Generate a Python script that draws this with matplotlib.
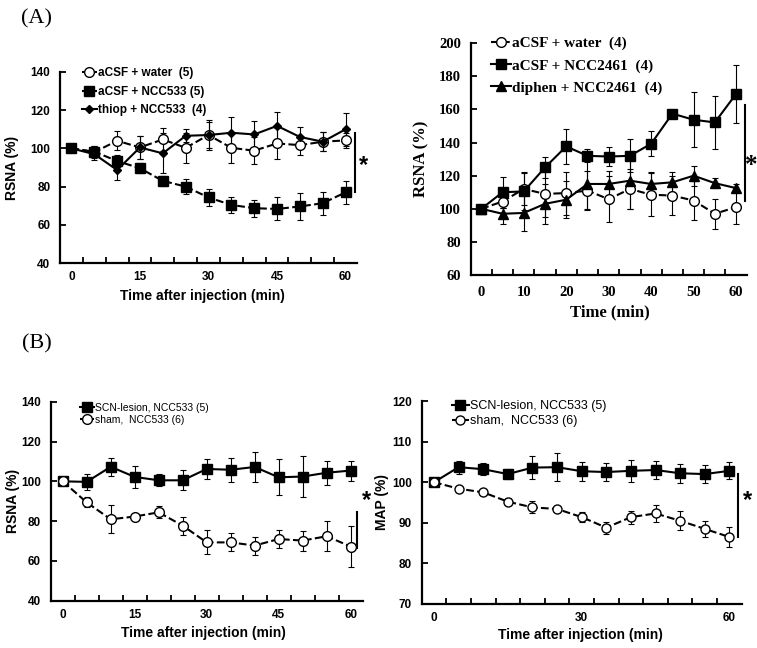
import numpy as np
import matplotlib.pyplot as plt
from matplotlib.ticker import FixedLocator

# time points (min)
t = [0, 5, 10, 15, 20, 25, 30, 35, 40, 45, 50, 55, 60]

# (A) left: RSNA, Time after injection
a1_water = [100, 98, 104, 100.5, 104.7, 100.3, 107, 100.3, 98.8, 102.6, 101.7, 103.5, 104.2]
a1_water_err = [0, 3, 5, 6, 6, 8, 8, 8, 7, 8, 5, 5, 4]
a1_ncc = [100, 98.3, 93.4, 89.6, 83, 80, 74.3, 70.4, 68.7, 68.3, 69.6, 71.3, 77]
a1_ncc_err = [0, 3, 3, 2.5, 2.5, 4, 4.5, 4.3, 4.5, 6, 7, 6, 6]
a1_thiop = [100, 97, 88.7, 100.5, 97.4, 106.6, 107, 108.2, 107.3, 111.8, 106, 103.5, 110]
a1_thiop_err = [0, 3, 5.5, 6, 10.5, 3.5, 7, 8, 7, 7, 5, 5, 8.5]

# (A) right: RSNA, Time
a2_water = [100, 104.4, 112, 109, 109.5, 111, 105.8, 112, 108.5, 108, 105, 97, 101]
a2_water_err = [0, 4, 10, 14, 13, 12, 14, 12, 13, 12, 12, 9, 10]
a2_ncc = [100, 110, 110.5, 125, 137.7, 132, 131.6, 132, 139.3, 157.5, 153.8, 152.2, 169.4]
a2_ncc_err = [0, 9.5, 11, 6.5, 10.5, 4, 6, 10, 7.5, 1.5, 16.5, 15.8, 17.5]
a2_diphen = [100, 97, 97.5, 103, 105.5, 115, 115, 117, 115, 116, 120, 115.5, 112.5]
a2_diphen_err = [0, 6, 11, 12, 11, 15, 8, 17, 7, 6, 6, 3, 2.5]

# (B) left: RSNA
b1_scn = [100, 99.7, 107.3, 102.2, 100.5, 100.5, 106.2, 105.8, 107.2, 102, 102.4, 104.3, 105.4]
b1_scn_err = [0, 4, 4.5, 5.5, 3, 5, 5, 6, 7.5, 9, 10.5, 6, 5]
b1_sham = [100, 89.4, 80.9, 82.3, 84.4, 77.7, 69.3, 69.3, 67.7, 71, 70.2, 72.4, 67.2]
b1_sham_err = [0, 2.5, 7, 1, 3, 4.5, 6, 4.5, 4.5, 4.5, 5, 7.5, 10.5]

# (B) right: MAP
b2_scn = [100, 103.7, 103.2, 102, 103.6, 103.7, 102.7, 102.5, 102.8, 103, 102.2, 102, 102.8]
b2_scn_err = [0, 1.6, 1.5, 1.2, 2.8, 3.5, 2.3, 2.2, 2.7, 2.3, 2.4, 2.3, 2.1]
b2_sham = [100, 98.4, 97.5, 95.2, 93.8, 93.4, 91.4, 88.8, 91.4, 92.3, 90.5, 88.5, 86.5]
b2_sham_err = [0, 0.5, 0.5, 0.8, 1.5, 0.5, 1.2, 1.5, 1.6, 2, 2.3, 2, 2.4]

W, H = 757, 648
fig = plt.figure(figsize=(W / 100, H / 100), dpi=100)


def box(x0, y0, x1, y1):
    # pixel box (top-left origin) -> figure fraction
    return [x0 / W, 1 - y1 / H, (x1 - x0) / W, (y1 - y0) / H]


def series(ax, y, err, marker, ls, ms, face='black', lw=1.5):
    ax.errorbar(t, y, yerr=err, fmt='none', ecolor='black', elinewidth=0.8,
                capsize=2, capthick=0.8, zorder=2)
    line, = ax.plot(t, y, color='black', ls=ls, lw=lw, marker=marker, ms=ms,
                    mfc=face, mec='black', mew=1, zorder=3)
    return line


def setup(ax, ylim, yticks, xlabels, font, fsize, xlab, ylab, lsize, xlab_pos, ylab_pos, xpad=7):
    ax.set_xlim(-2.5, 62.5)
    ax.set_ylim(*ylim)
    ax.set_yticks(yticks)
    ax.set_xticks(xlabels)
    ax.xaxis.set_minor_locator(FixedLocator(np.arange(2.5, 60, 5)))
    ax.tick_params(axis='x', which='major', length=0, pad=xpad)
    ax.tick_params(axis='x', which='minor', direction='in', length=4, width=1.3)
    ax.tick_params(axis='y', direction='in', length=4, width=1.3, pad=7)
    for s in ['top', 'right']:
        ax.spines[s].set_visible(False)
    for s in ['left', 'bottom']:
        ax.spines[s].set_linewidth(1.6)
    for lab in ax.get_xticklabels() + ax.get_yticklabels():
        lab.set_fontfamily(font)
        lab.set_fontweight('bold')
        lab.set_fontsize(fsize)
    ax.set_xlabel(xlab, family=font, weight='bold', fontsize=lsize)
    ax.set_ylabel(ylab, family=font, weight='bold', fontsize=lsize)
    ax.xaxis.set_label_coords(*xlab_pos)
    ax.xaxis.label.set_va('top')
    ax.yaxis.set_label_coords(*ylab_pos)


def sig(ax, x, y0, y1, ys, font, size, dx=1.9):
    ax.plot([x, x], [y0, y1], color='black', lw=1.5, clip_on=False)
    ax.text(x + dx, ys, '*', ha='center', va='center', family=font, weight='bold',
            fontsize=size, clip_on=False)


sans = 'Liberation Sans'
serif = 'Liberation Serif'

# (A) left
ax1 = fig.add_axes(box(60, 72, 357, 263))
h1 = series(ax1, a1_water, a1_water_err, 'o', '--', 7, face='white')
h2 = series(ax1, a1_ncc, a1_ncc_err, 's', '--', 7.5)
h3 = series(ax1, a1_thiop, a1_thiop_err, 'D', '-', 4.5)
setup(ax1, (40, 140), range(40, 141, 20), [0, 15, 30, 45, 60], sans, 8.5,
      'Time after injection (min)', 'RSNA (%)', 10, (0.48, -0.135), (-0.138, 0.5), xpad=6)
ax1.legend([h1, h2, h3], ['aCSF + water  (5)', 'aCSF + NCC533 (5)', 'thiop + NCC533  (4)'],
           loc='upper left', bbox_to_anchor=(0.053, 1.056), frameon=False, borderpad=0,
           handlelength=1.3, handletextpad=0.1, labelspacing=0.55,
           prop={'family': sans, 'weight': 'bold', 'size': 8.5})
sig(ax1, 62, 77, 108, 91, sans, 17)

# (A) right
ax2 = fig.add_axes(box(470.7, 43.3, 746.7, 275))
g1 = series(ax2, a2_water, a2_water_err, 'o', '--', 7, face='white')
g2 = series(ax2, a2_ncc, a2_ncc_err, 's', '-', 7)
g3 = series(ax2, a2_diphen, a2_diphen_err, '^', '-', 7)
setup(ax2, (60, 200), range(60, 201, 20), [0, 10, 20, 30, 40, 50, 60], serif, 10.5,
      'Time (min)', 'RSNA (%)', 12, (0.505, -0.125), (-0.151, 0.5), xpad=8)
ax2.legend([g1, g2, g3], ['aCSF + water  (4)', 'aCSF + NCC2461  (4)', 'diphen + NCC2461  (4)'],
           loc='upper left', bbox_to_anchor=(0.045, 1.062), frameon=False, borderpad=0,
           handlelength=1.3, handletextpad=0.1, labelspacing=0.55,
           prop={'family': serif, 'weight': 'bold', 'size': 11})
sig(ax2, 62.2, 105, 163, 126, serif, 18, dx=1.4)

# (B) left
ax3 = fig.add_axes(box(50.7, 401.7, 362.7, 600.7))
k1 = series(ax3, b1_scn, b1_scn_err, 's', '-', 7)
k2 = series(ax3, b1_sham, b1_sham_err, 'o', '--', 7, face='white')
setup(ax3, (40, 140), range(40, 141, 20), [0, 15, 30, 45, 60], sans, 8.5,
      'Time after injection (min)', 'RSNA (%)', 10, (0.488, -0.127), (-0.098, 0.5), xpad=6)
ax3.legend([k1, k2], ['SCN-lesion, NCC533 (5)', 'sham,  NCC533 (6)'],
           loc='upper left', bbox_to_anchor=(0.078, 1.02), frameon=False, borderpad=0,
           handlelength=1.3, handletextpad=0.1, labelspacing=0.2,
           prop={'family': sans, 'size': 7.5})
sig(ax3, 61.3, 66.7, 84.4, 90.5, sans, 17)

# (B) right
ax4 = fig.add_axes(box(421.7, 401, 741.7, 604))
m1 = series(ax4, b2_scn, b2_scn_err, 's', '-', 6.5)
m2 = series(ax4, b2_sham, b2_sham_err, 'o', '--', 6.5, face='white')
setup(ax4, (70, 120), range(70, 121, 10), [0, 30, 60], sans, 8.5,
      'Time after injection (min)', 'MAP (%)', 10, (0.495, -0.118), (-0.102, 0.5), xpad=6)
ax4.legend([m1, m2], ['SCN-lesion, NCC533 (5)', 'sham,  NCC533 (6)'],
           loc='upper left', bbox_to_anchor=(0.076, 1.035), frameon=False, borderpad=0,
           handlelength=1.3, handletextpad=0.1, labelspacing=0.25,
           prop={'family': sans, 'size': 9})
sig(ax4, 61.8, 86.6, 102, 95.5, sans, 17)

# panel letters
fig.text(37 / W, 1 - 19 / H, '(A)', ha='center', va='center', family=serif, fontsize=16)
fig.text(37 / W, 1 - 344 / H, '(B)', ha='center', va='center', family=serif, fontsize=16)

fig.savefig('out.png', dpi=100)
